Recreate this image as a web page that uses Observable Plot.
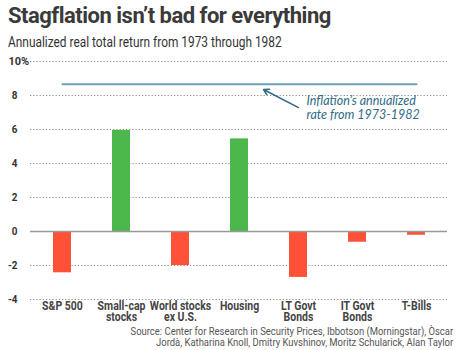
<!DOCTYPE html>
<html><head><meta charset="utf-8">
<script src="https://cdn.jsdelivr.net/npm/d3@7"></script>
<script src="https://cdn.jsdelivr.net/npm/@observablehq/plot@0.6"></script>
<style>
body{margin:0;background:#fff;width:456px;height:350px;overflow:hidden;position:relative;font-family:Roboto,sans-serif}
#title{position:absolute;left:8px;top:3px;font:bold 22px Roboto,sans-serif;color:#3a3a3a;letter-spacing:-0.5px;white-space:nowrap}
#sub{position:absolute;left:8px;top:34px;font:14px Roboto,sans-serif;color:#333;white-space:nowrap;transform:scaleX(0.85);transform-origin:0 0}
#chart{position:absolute;left:0;top:52px}
#src{position:absolute;right:3px;top:327px;font:11px Roboto,sans-serif;color:#555;text-align:right;line-height:10.5px;white-space:nowrap;transform:scaleX(0.86);transform-origin:100% 0}
</style></head><body>
<div id="title">Stagflation isn’t bad for everything</div>
<div id="sub">Annualized real total return from 1973 through 1982</div>
<div id="chart"></div>
<div id="src">Source: Center for Research in Security Prices, Ibbotson (Morningstar), Òscar<br>Jordà, Katharina Knoll, Dmitry Kuvshinov, Moritz Schularick, Alan Taylor</div>
<script>
const categories = ["S&P 500","Small-cap stocks","World stocks ex U.S.","Housing","LT Govt Bonds","IT Govt Bonds","T-Bills"];
const tickLabels = ["S&P 500","Small-cap\nstocks","World stocks\nex U.S.","Housing","LT Govt\nBonds","IT Govt\nBonds","T-Bills"];
const returns = [-2.43, 5.95, -2.0, 5.45, -2.7, -0.63, -0.22];
const inflation = 8.66;
const yTicks = [-4,-2,0,2,4,6,8,10];
const annotationText = "Inflation’s annualized\nrate from 1973-1982";
const annotationY = 7.3;
const arrowY = [7.29, 9.08];

const data = categories.map((c,i)=>({cat:c, v:returns[i]}));
const labelMap = new Map(categories.map((c,i)=>[c,tickLabels[i]]));
const tickFont = {fontWeight:"bold", fontSize:11, fill:"#333"};

const chart = Plot.plot({
  width:456, height:275,
  marginTop:9, marginBottom:28, marginLeft:30, marginRight:9,
  style:{fontFamily:"Roboto, sans-serif", background:"#fff"},
  x:{domain:categories, paddingInner:0.7, paddingOuter:0.35, axis:null, label:null},
  y:{domain:[-4,10], axis:null, label:null},
  marks:[
    Plot.gridY(yTicks,{stroke:"#8a8a8a", strokeOpacity:1, strokeDasharray:"1.2,2", strokeWidth:1}),
    Plot.axisY(yTicks.filter(d=>d!==10),{tickSize:0, tickPadding:13, label:null, ...tickFont, tickFormat:d=>d<0?"-"+Math.abs(d):String(d)}),
    Plot.text([10],{y:d=>d, text:d=>d+"%", frameAnchor:"left", dx:-22, textAnchor:"start", ...tickFont}),
    Plot.barY(data,{x:"cat", y:"v", fill:d=>d.v>=0?"#4cb84c":"#ff5038"}),
    Plot.ruleY([0],{stroke:"#999", strokeWidth:1.5}),
    Plot.lineY([categories[0], categories[categories.length-1]],{x:d=>d, y:()=>inflation, stroke:"#6e9fb7", strokeWidth:2}),
    Plot.arrow([0],{x1:()=>categories[4], y1:()=>arrowY[0], x2:()=>categories[3], y2:()=>arrowY[1], insetEnd:27, stroke:"#2f6b87", strokeWidth:1.5, headLength:6}),
    Plot.text([annotationText],{x:()=>categories[4], y:()=>annotationY, text:d=>d, dx:8, textAnchor:"start", lineAnchor:"middle", lineHeight:1.12, fontSize:12.5, fontStyle:"italic", fontFamily:"Lato, sans-serif", fill:"#2f6b87"}),
    Plot.axisX(categories,{tickSize:0, tickPadding:2, label:null, fontWeight:"bold", fontSize:12.5, fill:"#444", lineHeight:0.92, tickFormat:d=>labelMap.get(d)})
  ]
});
// condense the x tick labels horizontally, like the reference's narrow face
chart.querySelectorAll('g[aria-label="x-axis tick label"] text').forEach(t=>{
  const tr = t.getAttribute("transform") || "";
  t.setAttribute("transform", tr + " scale(0.84,1)");
});
chart.querySelectorAll('g[aria-label="y-axis tick label"] text').forEach(t=>{
  const tr = t.getAttribute("transform") || "";
  t.setAttribute("transform", tr + " scale(0.9,1)");
});
document.getElementById("chart").appendChild(chart);
</script>
</body></html>
